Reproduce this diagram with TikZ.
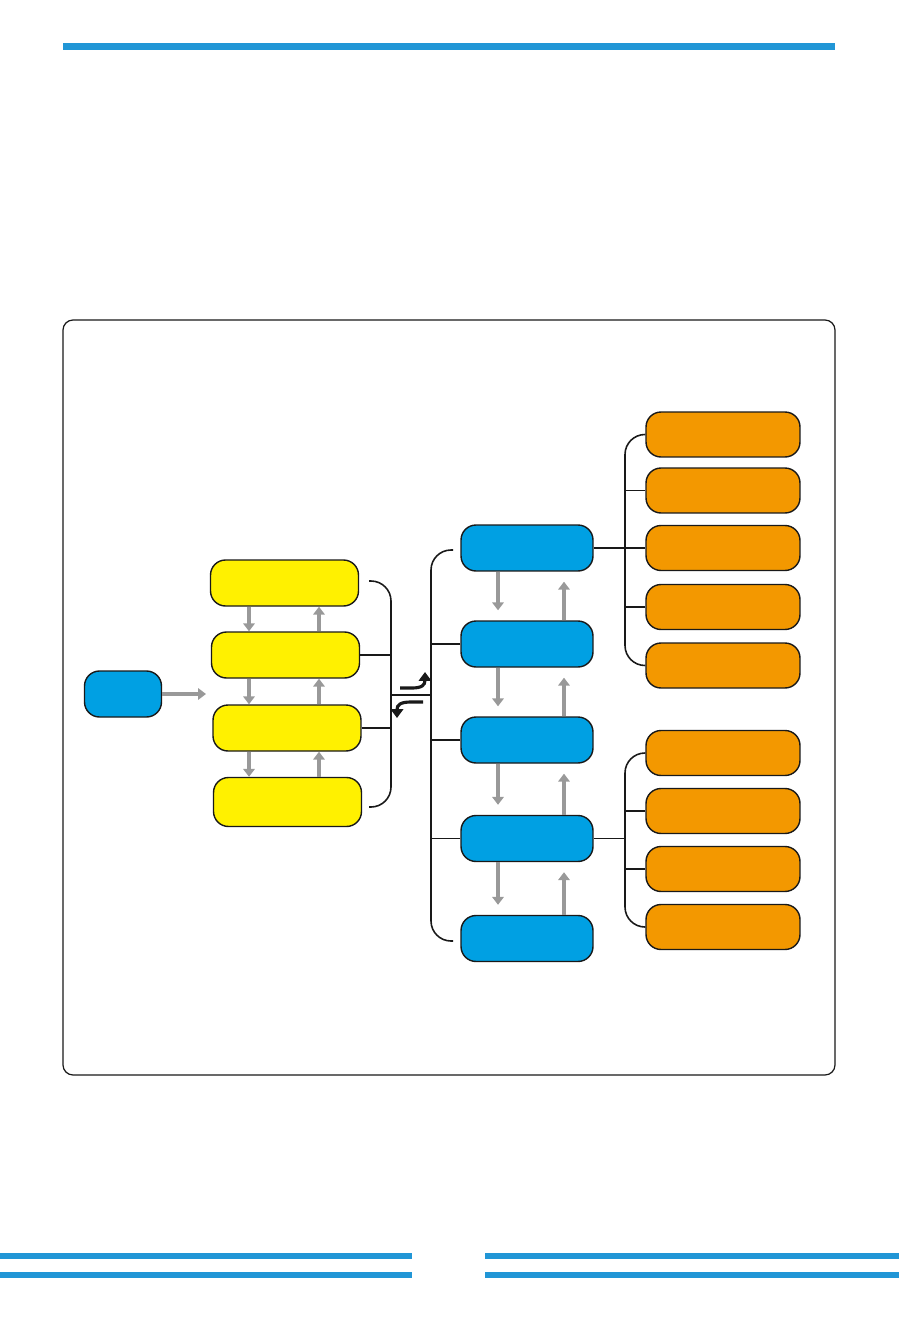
\documentclass[tikz,border=0pt]{standalone}
\usetikzlibrary{arrows.meta}

\definecolor{boxblue}{RGB}{0,160,227}
\definecolor{boxyellow}{RGB}{255,241,0}
\definecolor{boxorange}{RGB}{243,152,0}
\definecolor{ruleblue}{RGB}{33,150,214}
\definecolor{flowgray}{RGB}{153,153,153}

\begin{document}
\begin{tikzpicture}[x=0.02cm, y=-0.02cm,
	box/.style={draw=black!90, line width=0.8pt, rounded corners=0.3cm, inner sep=0pt, minimum height=0.92cm},
	bbox/.style={box, fill=boxblue, minimum width=2.64cm},
	ybox/.style={box, fill=boxyellow, minimum width=2.96cm},
	obox/.style={box, fill=boxorange, minimum width=3.08cm, minimum height=0.9cm},
	flow/.style={draw=flowgray, line width=2.2pt, -{Triangle[length=4.5pt,width=6.5pt]}},
	link/.style={draw=black!90, line width=0.9pt},
	turn/.style={draw=black!90, line width=1.8pt, -{Triangle[length=5pt,width=7pt]}}]

\useasboundingbox (0,0) rectangle (899,1324);

% Blue rules on the page
\fill[ruleblue] (63,43) rectangle (835,50);
\fill[ruleblue] (0,1253) rectangle (412,1259);
\fill[ruleblue] (0,1272) rectangle (412,1278);
\fill[ruleblue] (485,1253) rectangle (899,1259);
\fill[ruleblue] (485,1272) rectangle (899,1278);

% Frame
\draw[black!90, line width=0.7pt, rounded corners=0.2cm] (63,320) rectangle (835,1075);

% Start node
\node[box, fill=boxblue, minimum width=1.54cm] (start) at (123,694) {};
\coordinate (in) at (206,694);
\draw[flow] (start) -- (in);

% Yellow column
\node[ybox] (y1) at (284.5,583) {};
\node[ybox] (y2) at (285.5,655) {};
\node[ybox] (y3) at (287,728) {};
\node[ybox, minimum height=0.98cm] (y4) at (287.5,802) {};

\coordinate (ydown) at (249,0);
\coordinate (yup) at (319,0);
\foreach \i/\j in {1/2,2/3,3/4} {
	\draw[flow] (y\i.south -| ydown) -- (y\j.north -| ydown);
	\draw[flow] (y\j.north -| yup) -- (y\i.south -| yup);
}

% Bracket right of the yellow column
\coordinate (ytop) at (369,581);
\coordinate (ybot) at (369,807);
\coordinate (ymid) at (391,695);
\draw[link, rounded corners=0.4cm] (ytop) -- (391,581) -- (391,807) -- (ybot);
\draw[link] (y2.east) -- (y2.east -| ymid);
\draw[link] (y3.east) -- (y3.east -| ymid);

% Blue column
\foreach \i/\y in {1/548,2/644,3/740,4/838.5,5/938.5} {
	\node[bbox] (b\i) at (527,\y) {};
}

\foreach \i/\j in {1/2,2/3,3/4,4/5} {
	\draw[flow, shorten >=0.2cm] ([xshift=-0.58cm]b\i.south) -- ([xshift=-0.58cm]b\j.north);
	\draw[flow, shorten >=0.2cm] ([xshift=0.74cm]b\j.north) -- ([xshift=0.74cm]b\i.south);
}

% Bracket left of the blue column
\coordinate (btop) at (453,550);
\coordinate (bbot) at (453,941);
\coordinate (bmid) at (431,695);
\draw[link, rounded corners=0.4cm] (btop) -- (431,550) -- (431,941) -- (bbot);
\draw[link] (ymid) -- (bmid);
\draw[link] (b2.west) -- (b2.west -| bmid);
\draw[link] (b3.west) -- (b3.west -| bmid);
\draw[black!90, line width=0.5pt] (b4.west) -- (b4.west -| bmid);

% Exchange arrows
\draw[turn] (400,688) -- (412,688) .. controls (422,688) and (425,685) .. (425,672);
\draw[turn] (423,702) -- (411,702) .. controls (400,702) and (397,705) .. (397,718);

% Orange boxes, upper group
\foreach \i/\y in {1/434.5,2/490.5,3/548,4/607,5/665.5} {
	\node[obox] (o\i) at (723,\y) {};
}
\coordinate (oup) at (625,548);
\draw[link, rounded corners=0.4cm] (o1.west) -- (o1.west -| oup) -- (o5.west -| oup) -- (o5.west);
\draw[link] (o2.west) -- (o2.west -| oup);
\draw[link] (o4.west) -- (o4.west -| oup);
\draw[link] (b1.east) -- (b1.east -| o3.west);

% Orange boxes, lower group
\foreach \i/\y in {6/753,7/811,8/869,9/927} {
	\node[obox] (o\i) at (723,\y) {};
}
\coordinate (olow) at (625,840);
\draw[link, rounded corners=0.4cm] (o6.west) -- (o6.west -| olow) -- (o9.west -| olow) -- (o9.west);
\draw[link] (o7.west) -- (o7.west -| olow);
\draw[link] (o8.west) -- (o8.west -| olow);
\draw[link] (b4.east) -- (b4.east -| olow);

\end{tikzpicture}
\end{document}
